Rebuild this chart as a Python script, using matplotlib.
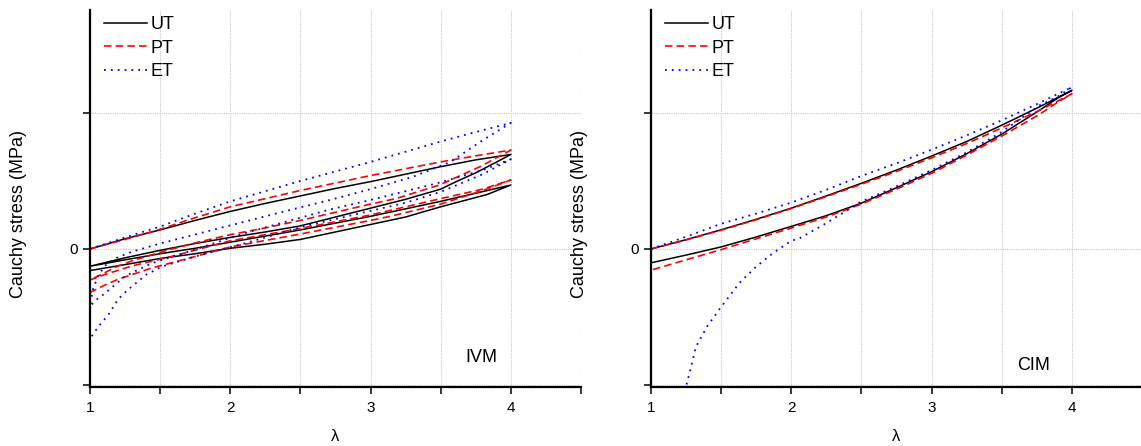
import matplotlib
matplotlib.use("Agg")
import matplotlib.pyplot as plt
from matplotlib.ticker import FixedLocator, NullFormatter, FixedFormatter

plt.rcParams['font.family'] = ['Liberation Sans', 'DejaVu Sans']

# ---------------------------------------------------------------------------
# Cyclic stress-stretch responses (loading -> unloading -> reloading -> unloading)
# ---------------------------------------------------------------------------

# IVM model
IVM_UT_LAM = [1, 1.25, 1.5, 1.75, 2, 2.25, 2.5, 2.75, 3, 3.25, 3.5, 3.75, 4,
              3.9, 3.75, 3.6, 3.5, 3.25, 3, 2.75, 2.5, 2.25, 2, 1.75, 1.5, 1.25, 1,
              1.25, 1.5, 1.75, 2, 2.25, 2.5, 2.75, 3, 3.25, 3.5, 3.75, 4,
              3.83, 3.5, 3.25, 3, 2.75, 2.5, 2.25, 2, 1.75, 1.5, 1.25, 1]
IVM_UT_SIG = [0, 0.075, 0.14, 0.21, 0.276, 0.335, 0.39, 0.445, 0.495, 0.55, 0.605, 0.655, 0.695,
              0.64, 0.56, 0.49, 0.44, 0.365, 0.30, 0.235, 0.17, 0.125, 0.085, 0.04, -0.01, -0.065, -0.127,
              -0.08, -0.035, 0.005, 0.05, 0.095, 0.14, 0.19, 0.24, 0.295, 0.35, 0.41, 0.47,
              0.40, 0.31, 0.235, 0.18, 0.125, 0.07, 0.035, 0.005, -0.035, -0.07, -0.115, -0.159]

IVM_PT_LAM = [1, 1.25, 1.5, 1.75, 2, 2.25, 2.5, 2.75, 3, 3.25, 3.5, 3.75, 4,
              3.78, 3.49, 3.18, 3, 2.75, 2.5, 2.25, 2, 1.75, 1.56, 1.32, 1.2, 1.107, 1,
              1.1, 1.3, 1.6, 2, 2.5, 3, 3.5, 3.8, 4,
              3.8, 3.5, 3.14, 3, 2.5, 2, 1.68, 1.44, 1.2, 1.107, 1]
IVM_PT_SIG = [0, 0.07, 0.145, 0.23, 0.31, 0.37, 0.43, 0.485, 0.54, 0.59, 0.64, 0.685, 0.727,
              0.605, 0.47, 0.37, 0.33, 0.27, 0.21, 0.155, 0.105, 0.045, -0.007, -0.08, -0.125, -0.174, -0.228,
              -0.19, -0.125, -0.05, 0.06, 0.15, 0.25, 0.37, 0.44, 0.507,
              0.43, 0.33, 0.24, 0.21, 0.11, 0.015, -0.075, -0.14, -0.223, -0.265, -0.32]

IVM_ET_LAM = [1, 1.25, 1.5, 1.75, 2, 2.25, 2.5, 2.75, 3, 3.25, 3.5, 3.75, 4,
              3.8, 3.57, 3.3, 3, 2.71, 2.4, 2.1, 1.8, 1.5, 1.3, 1.2, 1.12, 1.06, 1.02, 1,
              1.05, 1.107, 1.25, 1.44, 1.7, 2.1, 2.71, 3, 3.5, 3.8, 4,
              3.8, 3.5, 3.25, 3, 2.5, 2.1, 1.8, 1.51, 1.4, 1.27, 1.2, 1.13, 1.06, 1]
IVM_ET_SIG = [0, 0.085, 0.165, 0.26, 0.35, 0.425, 0.50, 0.57, 0.64, 0.715, 0.79, 0.86, 0.927,
              0.80, 0.64, 0.53, 0.44, 0.36, 0.28, 0.20, 0.12, 0.04, -0.02, -0.06, -0.11, -0.19, -0.30, -0.42,
              -0.37, -0.326, -0.20, -0.105, -0.02, 0.115, 0.29, 0.36, 0.49, 0.58, 0.66,
              0.55, 0.42, 0.34, 0.28, 0.16, 0.04, -0.04, -0.13, -0.19, -0.30, -0.37, -0.485, -0.57, -0.66]

# CIM model
CIM_UT_LAM = [1, 1.25, 1.5, 1.75, 2, 2.25, 2.5, 2.75, 3, 3.25, 3.5, 3.75, 4,
              3.9, 3.77, 3.5, 3.25, 3, 2.75, 2.5, 2.25, 2, 1.75, 1.5, 1.25, 1]
CIM_UT_SIG = [0, 0.068, 0.141, 0.218, 0.30, 0.39, 0.483, 0.58, 0.683, 0.79, 0.91, 1.035, 1.166,
              1.11, 1.02, 0.844, 0.70, 0.568, 0.45, 0.337, 0.245, 0.166, 0.088, 0.015, -0.045, -0.102]

CIM_PT_LAM = [1, 1.25, 1.5, 1.75, 2, 2.25, 2.5, 2.75, 3, 3.25, 3.5, 3.75, 4,
              3.9, 3.77, 3.5, 3.25, 3, 2.75, 2.5, 2.25, 2, 1.75, 1.5, 1.25, 1]
CIM_PT_SIG = [0, 0.066, 0.138, 0.215, 0.297, 0.385, 0.476, 0.57, 0.67, 0.775, 0.89, 1.01, 1.14,
              1.08, 0.99, 0.83, 0.69, 0.556, 0.44, 0.33, 0.235, 0.154, 0.075, -0.005, -0.08, -0.156]

CIM_ET_LAM = [1, 1.25, 1.5, 1.75, 2, 2.25, 2.5, 2.75, 3, 3.25, 3.5, 3.75, 4,
              3.9, 3.77, 3.5, 3.25, 3, 2.75, 2.5, 2.25, 2.06, 2, 1.87, 1.75, 1.63, 1.49, 1.40,
              1.32, 1.28, 1.255, 1.24]
CIM_ET_SIG = [0, 0.09, 0.185, 0.26, 0.341, 0.435, 0.537, 0.63, 0.73, 0.835, 0.946, 1.065, 1.19,
              1.12, 1.056, 0.86, 0.71, 0.58, 0.46, 0.349, 0.19, 0.079, 0.06, -0.03, -0.13, -0.25, -0.44, -0.57,
              -0.72, -0.89, -0.99, -1.08]

LEGEND_LABELS = ["UT", "PT", "ET"]
X_TICKS = [1, 2, 3, 4]
X_MINOR_TICKS = [1.5, 2.5, 3.5, 4.5]
Y_TICKS = [-1, 0, 1]
Y_TICK_LABELS = ["", "0", ""]

W, H = 1141, 446
fig = plt.figure(figsize=(W / 100, H / 100), dpi=100)
ax_ivm = fig.add_axes([90 / W, 59 / H, 491 / W, 377 / H])
ax_cim = fig.add_axes([651 / W, 59 / H, 491 / W, 377 / H])

styles = [
    dict(color="black", lw=1.1, ls="-"),
    dict(color="#ff0000", lw=1.2, ls=(0, (4.5, 2.5))),
    dict(color="#0000ff", lw=1.3, ls=(0, (1, 2.8))),
]

panels = [
    (ax_ivm, "IVM", [(IVM_UT_LAM, IVM_UT_SIG), (IVM_PT_LAM, IVM_PT_SIG), (IVM_ET_LAM, IVM_ET_SIG)], (3.79, -0.80)),
    (ax_cim, "CIM", [(CIM_UT_LAM, CIM_UT_SIG), (CIM_PT_LAM, CIM_PT_SIG), (CIM_ET_LAM, CIM_ET_SIG)], (3.73, -0.86)),
]

for ax, name, series, txt_pos in panels:
    for (lam, sig), st, lab in zip(series, styles, LEGEND_LABELS):
        ax.plot(lam, sig, label=lab, solid_joinstyle="round", **st)

    ax.set_xlim(1, 4.5)
    ax.set_ylim(-1.015, 1.757)

    ax.xaxis.set_major_locator(FixedLocator(X_TICKS))
    ax.xaxis.set_minor_locator(FixedLocator(X_MINOR_TICKS))
    ax.xaxis.set_minor_formatter(NullFormatter())
    ax.yaxis.set_major_locator(FixedLocator(Y_TICKS))
    ax.yaxis.set_major_formatter(FixedFormatter(Y_TICK_LABELS))

    ax.tick_params(which="both", direction="out", length=5, width=1.1, labelsize=11,
                   color="black")
    ax.tick_params(axis="x", pad=5)
    ax.tick_params(axis="y", pad=4)

    ax.grid(True, which="both", axis="x", color="#c8c8c8", ls=(0, (1, 1)), lw=0.8)
    ax.grid(True, which="major", axis="y", color="#c8c8c8", ls=(0, (1, 1)), lw=0.8)
    ax.set_axisbelow(True)

    for side in ("top", "right"):
        ax.spines[side].set_visible(False)
    for side in ("left", "bottom"):
        ax.spines[side].set_linewidth(1.6)

    ax.set_xlabel("\u03bb", fontsize=12)
    ax.xaxis.set_label_coords(0.5, -0.112)
    ax.set_ylabel("Cauchy stress (MPa)", fontsize=13)
    ax.yaxis.set_label_coords(-0.128, 0.46)

    ax.text(txt_pos[0], txt_pos[1], name, fontsize=13, ha="center", va="center")

    ax.legend(loc="upper left", bbox_to_anchor=(0.0285, 0.984), frameon=False,
              fontsize=13, handlelength=2.4, handletextpad=0.2, labelspacing=0.36,
              borderpad=0, borderaxespad=0)

fig.savefig("out.png", dpi=100)
